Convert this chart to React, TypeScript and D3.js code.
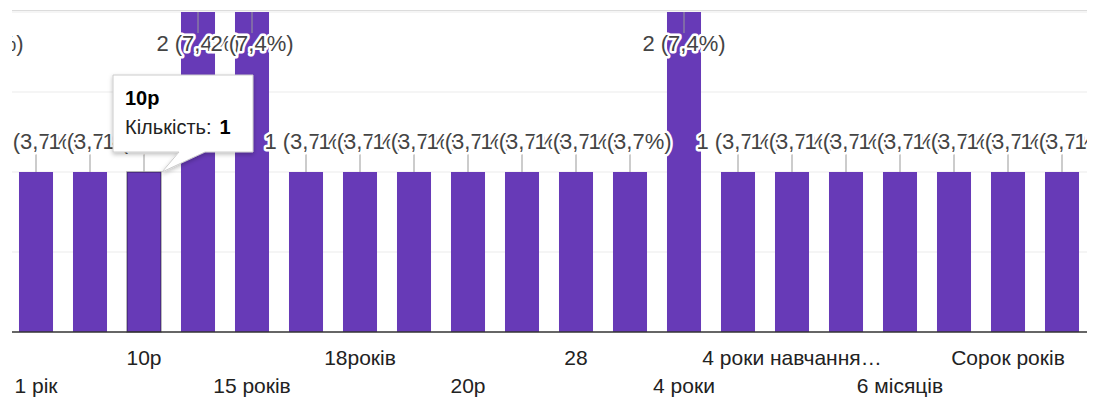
import React from "react";
import * as d3 from "d3";

// відповіді (категорії) і кількість відповідей
const categories = [
  "0",
  "1 рік",
  "1,5 року",
  "10р",
  "12 років",
  "15 років",
  "17 років",
  "18років",
  "2 роки",
  "20р",
  "25 років",
  "28",
  "3 роки",
  "4 роки",
  "4 місяці",
  "4 роки навчання в університеті",
  "5 років",
  "6 місяців",
  "7 років",
  "Сорок років",
  "Три роки",
  "Шість років",
  "Я не знаю",
];
const counts = [2, 1, 1, 1, 2, 2, 1, 1, 1, 1, 1, 1, 1, 2, 1, 1, 1, 1, 1, 1, 1, 1, 1];
const yTicks = [0, 0.5, 1, 1.5, 2];
const hovered = "10р";
const tooltipLabel = "Кількість:";

const W = 1093;
const H = 400;
const margin = { top: 10, right: 6, bottom: 68, left: 12 };
const step = 54;
const font = "Arial, 'Liberation Sans', sans-serif";
const purple = "#673ab7";

const truncate = (s: string) => (s.length > 15 ? s.slice(0, 15) + "…" : s);

export default function App() {
  const plotR = W - margin.right;
  const plotB = H - margin.bottom;
  const total = d3.sum(counts);

  const x = d3
    .scaleBand<string>()
    .domain(categories)
    .range([margin.left - 57, margin.left - 57 + step * categories.length])
    .paddingInner(0.37)
    .paddingOuter(0.185);

  const y = d3.scaleLinear().domain([0, 2]).range([plotB, 12]);

  const data = categories.map((c, i) => ({ c, v: counts[i], i }));
  const fmt = (v: number) =>
    `${v} (${((v / total) * 100).toFixed(1).replace(".", ",")}%)`;
  const cx = (c: string) => x(c)! + x.bandwidth() / 2;

  const hv = data.find((d) => d.c === hovered)!;
  const hx = x(hv.c)! + x.bandwidth();
  const hy = y(hv.v);
  const bx = hx - 48;
  const by = hy - 97;
  const bw = 140;
  const bh = 77;

  return (
    <svg
      width={W}
      height={H}
      style={{ position: "absolute", left: 0, top: 0, background: "#fff" }}
      fontFamily={font}
    >
      <defs>
        <clipPath id="plot">
          <rect x={margin.left} y={margin.top} width={plotR - margin.left} height={plotB - margin.top + 2} />
        </clipPath>
        <filter id="shadow" x="-20%" y="-20%" width="140%" height="160%">
          <feDropShadow dx="0" dy="2" stdDeviation="2" floodColor="#000" floodOpacity="0.25" />
        </filter>
      </defs>

      <g clipPath="url(#plot)">
        {yTicks.slice(1).map((t) => (
          <line key={t} x1={margin.left} x2={plotR} y1={y(t)} y2={y(t)} stroke="#ebebeb" strokeWidth={1} />
        ))}
        <line x1={margin.left} x2={plotR} y1={margin.top - 0.5} y2={margin.top - 0.5} stroke="#dcdcdc" strokeWidth={3} />

        {data.map((d) => (
          <rect
            key={d.c}
            x={x(d.c)}
            y={y(d.v)}
            width={x.bandwidth()}
            height={plotB - y(d.v)}
            fill={purple}
            stroke={d.c === hovered ? "rgba(0,0,0,0.35)" : "none"}
            strokeWidth={1.5}
          />
        ))}

        {data.map((d) => {
          const top = y(d.v);
          const inside = top - 40 < margin.top;
          const stemEnd = inside ? top + 21 : top - 18;
          const ty = inside ? top + 39 : top - 23;
          return (
            <g key={d.c}>
              <line x1={cx(d.c)} x2={cx(d.c)} y1={top} y2={stemEnd} stroke="#999" strokeWidth={1} />
              <text
                x={cx(d.c)}
                y={ty}
                textAnchor="middle"
                fontSize={22}
                fill="#444"
                stroke="#fff"
                strokeWidth={5}
                strokeLinejoin="round"
                paintOrder="stroke"
              >
                {fmt(d.v)}
              </text>
            </g>
          );
        })}

        <line x1={margin.left} x2={plotR} y1={plotB} y2={plotB} stroke="#333" strokeWidth={1.5} />
      </g>

      {data
        .filter((d) => d.i % 2 === 1 && cx(d.c) > margin.left && cx(d.c) < plotR - 20)
        .map((d) => {
          const row = ((d.i - 1) / 2) % 2 === 0 ? 1 : 0;
          return (
            <text
              key={d.c}
              x={cx(d.c)}
              y={plotB + 33 + row * 28}
              textAnchor="middle"
              fontSize={21}
              fill="#222"
            >
              {truncate(d.c)}
            </text>
          );
        })}

      <g filter="url(#shadow)">
        <path
          d={`M${bx},${by} h${bw} v${bh} H${bx + 92} L${hx + 1},${hy} L${bx + 66},${by + bh} H${bx} z`}
          fill="#fff"
          stroke="#ccc"
          strokeWidth={1}
        />
      </g>
      <text x={bx + 12} y={hy - 67} fontSize={20} fontWeight="bold" fill="#000">
        {hv.c}
      </text>
      <text x={bx + 12} y={hy - 38} fontSize={20} fill="#222">
        {tooltipLabel}
        <tspan dx={8} fontWeight="bold" fill="#000">{hv.v}</tspan>
      </text>
    </svg>
  );
}
